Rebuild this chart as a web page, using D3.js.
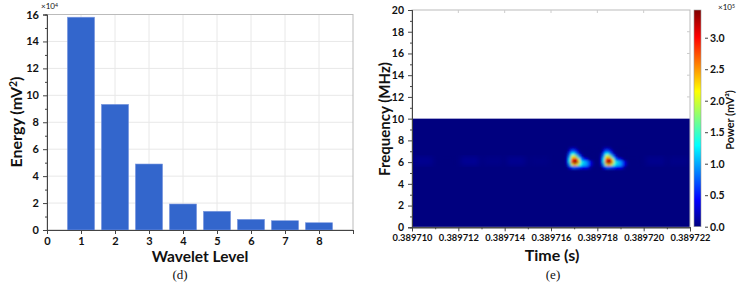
<!DOCTYPE html>
<html>
<head>
<meta charset="utf-8">
<script src="https://cdn.jsdelivr.net/npm/d3@7"></script>
<style>
  body { margin: 0; background: #fff; }
  svg { display: block; }
  text { font-family: Lato, "Open Sans", sans-serif; font-weight: bold; fill: #111; }
  .cap { font-family: "Liberation Serif", "DejaVu Serif", serif; font-weight: normal; }
</style>
</head>
<body>
<div id="chart"></div>
<script>
// ---- data: panel (d) ----
var levels = [1, 2, 3, 4, 5, 6, 7, 8];
var energy = [15.8, 9.33, 4.9, 1.93, 1.39, 0.79, 0.69, 0.54]; // x10^4 mV^2
var levelTicks = [0, 1, 2, 3, 4, 5, 6, 7, 8, 9];
var energyTicks = [0, 2, 4, 6, 8, 10, 12, 14, 16];

// ---- data: panel (e) ----
var timeTicks = [0.389710, 0.389712, 0.389714, 0.389716, 0.389718, 0.389720, 0.389722];
var freqTicks = [0, 2, 4, 6, 8, 10, 12, 14, 16, 18, 20];
var powerTicks = [0, 0.5, 1.0, 1.5, 2.0, 2.5, 3.0];
var powerMax = 3.44;          // x10^5 mV^2
var heatFreqMax = 10;         // computed band 0..10 MHz
var peakTimes = [0.38971700, 0.38971847];
var peakFreq = 6.0;
// spot shape around each peak (offsets in us and MHz), power x10^5
var spotDt = [-0.3, -0.2, -0.1, 0, 0.1, 0.2, 0.3, 0.4, 0.5, 0.6, 0.7, 0.8];
var spotDf = [1.25, 1.0, 0.75, 0.5, 0.25, 0, -0.25, -0.5];
var spotPower = [
  [0.0, 0.1, 0.2, 0.2, 0.1, 0.0, 0.0, 0.0, 0.0, 0.0, 0.0, 0.0],
  [0.0, 0.3, 0.7, 0.7, 0.4, 0.1, 0.0, 0.0, 0.0, 0.0, 0.0, 0.0],
  [0.1, 0.7, 1.3, 1.4, 0.9, 0.3, 0.1, 0.0, 0.0, 0.0, 0.0, 0.0],
  [0.2, 1.0, 2.0, 2.3, 1.8, 1.0, 0.4, 0.1, 0.0, 0.0, 0.0, 0.0],
  [0.3, 1.3, 2.6, 3.1, 2.9, 1.9, 1.0, 0.6, 0.4, 0.2, 0.0, 0.0],
  [0.3, 1.4, 2.8, 3.44, 3.3, 2.4, 1.5, 1.2, 1.0, 0.8, 0.4, 0.1],
  [0.2, 0.9, 1.9, 2.5, 2.3, 1.7, 1.3, 1.1, 1.0, 0.8, 0.4, 0.1],
  [0.0, 0.3, 0.6, 0.8, 0.7, 0.6, 0.5, 0.4, 0.4, 0.3, 0.1, 0.0]
];
// faint background ridge near 6 MHz
var ridgeTimes = [0.3897105, 0.3897115, 0.3897125, 0.3897135, 0.3897145, 0.3897155,
                  0.3897195, 0.3897205, 0.3897215];
var ridgePower = [0.06, 0.0, 0.07, 0.03, 0.06, 0.02, 0.0, 0.05, 0.03];

var svg = d3.select("#chart").append("svg")
    .attr("width", 741).attr("height", 285);

var defs = svg.append("defs");
defs.append("filter").attr("id", "soft")
    .attr("x", "-20%").attr("y", "-20%").attr("width", "140%").attr("height", "140%")
  .append("feGaussianBlur").attr("stdDeviation", 0.8);
defs.append("filter").attr("id", "softer")
  .append("feGaussianBlur").attr("stdDeviation", 2.5);

function sup(sel, base, s, tail) {
    sel.append("tspan").text(base);
    sel.append("tspan").attr("dy", "-0.45em").attr("font-size", "0.65em").text(s);
    if (tail) sel.append("tspan").attr("dy", "0.3em").text(tail);
}

function styleAxis(a, size) {
    a.select(".domain").attr("stroke", "#444");
    a.selectAll(".tick line").attr("stroke", "#444");
    a.selectAll("text").attr("font-size", size).attr("fill", "#111")
        .style("font-family", "Lato, sans-serif").style("font-weight", "bold");
}

// ================= panel (d) =================
var x1 = d3.scaleLinear().domain([0, 9]).range([47, 353]);
var y1 = d3.scaleLinear().domain([0, 16]).range([230, 14.5]);

var g1 = svg.append("g");

// grid
g1.selectAll(".hg").data(energyTicks.slice(1)).join("line")
    .attr("x1", x1(0)).attr("x2", x1(9))
    .attr("y1", d => y1(d)).attr("y2", d => y1(d))
    .attr("stroke", "#e8e8e8");
g1.selectAll(".vg").data(levelTicks.slice(1, 9)).join("line")
    .attr("x1", d => x1(d)).attr("x2", d => x1(d))
    .attr("y1", y1(0)).attr("y2", y1(16))
    .attr("stroke", "#e8e8e8");

// frame
g1.append("rect")
    .attr("x", x1(0)).attr("y", y1(16))
    .attr("width", x1(9) - x1(0)).attr("height", y1(0) - y1(16))
    .attr("fill", "none").attr("stroke", "#bbb");

// bars
g1.selectAll(".bar").data(levels).join("rect")
    .attr("x", (d) => x1(d - 0.4))
    .attr("width", x1(0.8) - x1(0))
    .attr("y", (d, i) => y1(energy[i]))
    .attr("height", (d, i) => y1(0) - y1(energy[i]))
    .attr("fill", "#3366cc")
    .attr("stroke", "#7f9be0").attr("stroke-width", 0.6);

// axes
var ax1 = g1.append("g").attr("transform", "translate(0," + y1(0) + ")")
    .call(d3.axisBottom(x1).tickValues(levelTicks)
        .tickFormat(d => d == 9 ? "" : d).tickSize(4).tickPadding(3));
var ay1 = g1.append("g").attr("transform", "translate(" + x1(0) + ",0)")
    .call(d3.axisLeft(y1).tickValues(energyTicks).tickSize(4).tickPadding(4));
var ay1m = g1.append("g").attr("transform", "translate(" + x1(0) + ",0)")
    .call(d3.axisLeft(y1).tickValues([1, 3, 5, 7, 9, 11, 13, 15]).tickSize(2).tickFormat(""));
[ax1, ay1, ay1m].forEach(a => styleAxis(a, 11));

g1.append("text").attr("x", 41).attr("y", 9).attr("font-size", 8)
    .style("font-weight", "normal").call(sup, "×10", "4");

g1.append("text")
    .attr("transform", "translate(22,122) rotate(-90)")
    .attr("text-anchor", "middle").attr("font-size", 16)
    .call(sup, "Energy (mV", "2", ")");

g1.append("text").attr("x", 200).attr("y", 262)
    .attr("text-anchor", "middle").attr("font-size", 15.5).text("Wavelet Level");
g1.append("text").attr("class", "cap").attr("x", 180).attr("y", 279)
    .attr("text-anchor", "middle").attr("font-size", 13).text("(d)");

// ================= panel (e) =================
var x2 = d3.scaleLinear().domain([0.389710, 0.389722]).range([412, 690]);
var y2 = d3.scaleLinear().domain([0, 20]).range([227.3, 10]);
var cz = d3.scaleLinear().domain([0, powerMax]).range([226.7, 10]);

var jetStops = [0, 0.125, 0.375, 0.625, 0.875, 1];
var jetColors = ["#00007f", "#0000ff", "#00ffff", "#ffff00", "#ff0000", "#7f0000"];
var jet = d3.scaleLinear().domain(jetStops.map(s => s * powerMax)).range(jetColors).clamp(true);

var g2 = svg.append("g");

// background band
g2.append("rect")
    .attr("x", x2(timeTicks[0])).attr("y", y2(heatFreqMax))
    .attr("width", x2(timeTicks[6]) - x2(timeTicks[0]))
    .attr("height", y2(0) - y2(heatFreqMax))
    .attr("fill", jet(0));

var clip = defs.append("clipPath").attr("id", "band");
clip.append("rect")
    .attr("x", x2(timeTicks[0])).attr("y", y2(heatFreqMax))
    .attr("width", x2(timeTicks[6]) - x2(timeTicks[0]))
    .attr("height", y2(0) - y2(heatFreqMax));

// ridge
g2.append("g").attr("clip-path", "url(#band)")
  .append("g").attr("filter", "url(#softer)")
  .selectAll("rect").data(ridgeTimes).join("rect")
    .attr("x", d => x2(d - 0.0000004))
    .attr("width", x2(0.3897108) - x2(0.389710))
    .attr("y", y2(peakFreq + 0.5))
    .attr("height", y2(0) - y2(0.8))
    .attr("fill", (d, i) => jet(ridgePower[i]));

// spots
var cells = [];
peakTimes.forEach(t0 => {
    spotPower.forEach((row, r) => {
        row.forEach((v, c) => {
            cells.push({ t: t0 + spotDt[c] * 1e-6, f: peakFreq + spotDf[r], v: v });
        });
    });
});
var cw = x2(0.3897101) - x2(0.3897100);
var ch = y2(0) - y2(0.25);
g2.append("g").attr("filter", "url(#soft)")
  .selectAll("rect").data(cells).join("rect")
    .attr("x", d => x2(d.t) - cw / 2)
    .attr("y", d => y2(d.f) - ch / 2)
    .attr("width", cw + 0.3).attr("height", ch + 0.3)
    .attr("fill", d => jet(d.v));

// frame
g2.append("rect")
    .attr("x", x2.range()[0]).attr("y", y2(20))
    .attr("width", x2.range()[1] - x2.range()[0]).attr("height", y2(0) - y2(20))
    .attr("fill", "none").attr("stroke", "#bbb");

var ax2 = g2.append("g").attr("transform", "translate(0," + y2(0) + ")")
    .call(d3.axisBottom(x2).tickValues(timeTicks).tickFormat(d3.format(".6f"))
        .tickSize(4).tickPadding(3));
var ax2m = g2.append("g").attr("transform", "translate(0," + y2(0) + ")")
    .call(d3.axisBottom(x2).tickValues([0.389711, 0.389713, 0.389715, 0.389717, 0.389719, 0.389721])
        .tickSize(2).tickFormat(""));
var ay2 = g2.append("g").attr("transform", "translate(" + x2(timeTicks[0]) + ",0)")
    .call(d3.axisLeft(y2).tickValues(freqTicks).tickSize(4).tickPadding(4));
var ay2m = g2.append("g").attr("transform", "translate(" + x2(timeTicks[0]) + ",0)")
    .call(d3.axisLeft(y2).tickValues([1, 3, 5, 7, 9, 11, 13, 15, 17, 19]).tickSize(2).tickFormat(""));
styleAxis(ax2, 9.3);
[ax2m, ay2, ay2m].forEach(a => styleAxis(a, 10.5));

// light ticks on top and right edges
g2.append("g").selectAll("line").data(timeTicks.slice(1, 6)).join("line")
    .attr("x1", d => x2(d)).attr("x2", d => x2(d))
    .attr("y1", y2(20)).attr("y2", y2(20) + 3).attr("stroke", "#ccc");
g2.append("g").selectAll("line").data(freqTicks.slice(6, 10)).join("line")
    .attr("x1", x2.range()[1]).attr("x2", x2.range()[1] - 3)
    .attr("y1", d => y2(d)).attr("y2", d => y2(d)).attr("stroke", "#ccc");

g2.append("text")
    .attr("transform", "translate(390,119) rotate(-90)")
    .attr("text-anchor", "middle").attr("font-size", 15).text("Frequency (MHz)");
g2.append("text").attr("x", 552).attr("y", 261)
    .attr("text-anchor", "middle").attr("font-size", 16).text("Time (s)");
g2.append("text").attr("class", "cap").attr("x", 553).attr("y", 279)
    .attr("text-anchor", "middle").attr("font-size", 13).text("(e)");

// colour bar
var grad = defs.append("linearGradient").attr("id", "jetbar")
    .attr("x1", 0).attr("y1", 1).attr("x2", 0).attr("y2", 0);
grad.selectAll("stop").data(jetStops).join("stop")
    .attr("offset", d => d)
    .attr("stop-color", (d, i) => jetColors[i]);

var cbx = 694, cbw = 7;
g2.append("rect")
    .attr("x", cbx).attr("y", cz(powerMax))
    .attr("width", cbw).attr("height", cz(0) - cz(powerMax))
    .attr("fill", "url(#jetbar)").attr("stroke", "#999").attr("stroke-width", 0.6);
var cax = g2.append("g").attr("transform", "translate(" + (cbx + cbw + 4) + ",0)")
    .call(d3.axisRight(cz).tickValues(powerTicks).tickFormat(d3.format(".1f"))
        .tickSize(3).tickPadding(2));
cax.select(".domain").remove();
styleAxis(cax, 10.5);

g2.append("text").attr("x", 718).attr("y", 10).attr("font-size", 8)
    .style("font-weight", "normal").call(sup, "×10", "5");
g2.append("text")
    .attr("transform", "translate(734,120) rotate(-90)")
    .attr("text-anchor", "middle").attr("font-size", 11).text("Power (mV²)");
</script>
</body>
</html>
